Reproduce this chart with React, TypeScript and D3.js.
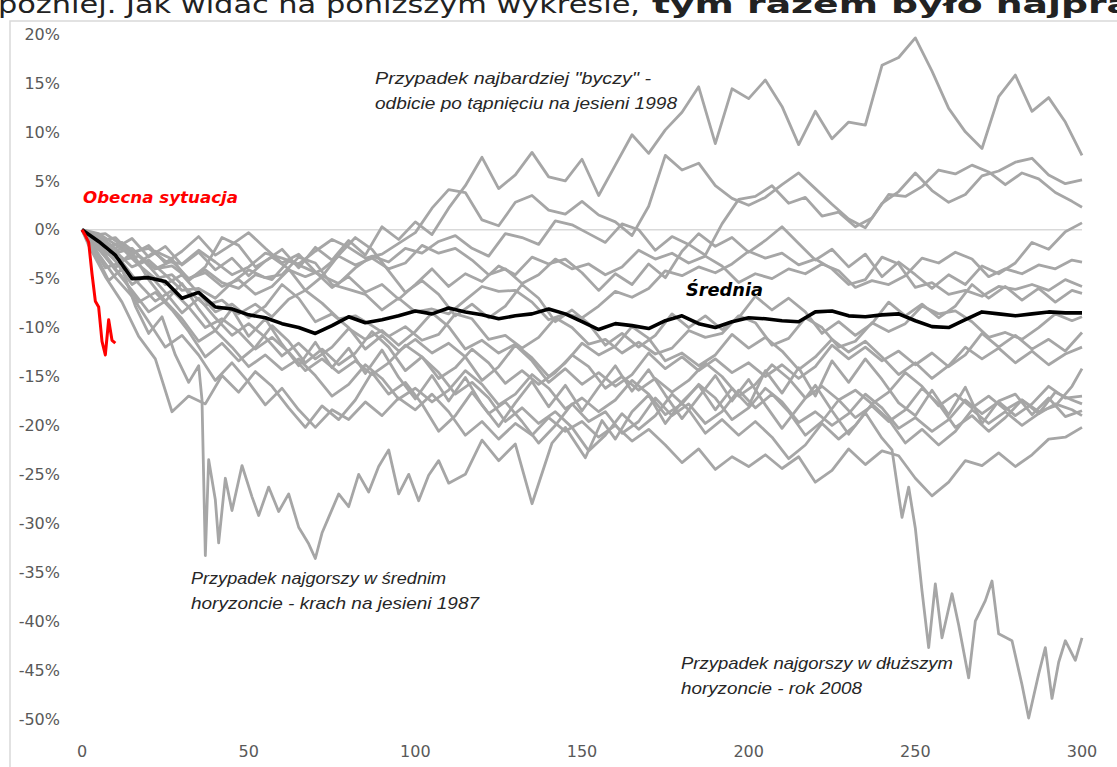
import * as d3 from 'd3';

// trading days after the start of the correction (two sampling grids)
const days = [
  0, 5, 10, 15, 20, 25, 30, 35, 40, 45,
  50, 55, 60, 65, 70, 75, 80, 85, 90, 95,
  100, 105, 110, 115, 120, 125, 130, 135, 140, 145,
  150, 155, 160, 165, 170, 175, 180, 185, 190, 195,
  200, 205, 210, 215, 220, 225, 230, 235, 240, 245,
  250, 255, 260, 265, 270, 275, 280, 285, 290, 295,
  300,
];
const daysB = [
  0,
  2, 7, 12, 17, 22, 27, 32, 37, 42, 47,
  52, 57, 62, 67, 72, 77, 82, 87, 92, 97,
  102, 107, 112, 117, 122, 127, 132, 137, 142, 147,
  152, 157, 162, 167, 172, 177, 182, 187, 192, 197,
  202, 207, 212, 217, 222, 227, 232, 237, 242, 247,
  252, 257, 262, 267, 272, 277, 282, 287, 292, 297,
  300,
];

const yTicks = [20, 15, 10, 5, 0, -5, -10, -15, -20, -25, -30, -35, -40, -45, -50];
const xTicks = [0, 50, 100, 150, 200, 250, 300];

// "Średnia"
const average = [
  0, -1.2, -2.6, -5.0, -4.9, -5.3, -7.0, -6.4, -7.9, -8.1,
  -8.7, -9.0, -9.6, -10.0, -10.6, -9.8, -8.9, -9.5, -9.2, -8.8,
  -8.3, -8.6, -8.0, -8.4, -8.7, -9.1, -8.8, -8.6, -8.1, -8.6,
  -9.4, -10.2, -9.6, -9.8, -10.1, -9.3, -8.8, -9.6, -10.0, -9.4,
  -9.0, -9.1, -9.3, -9.4, -8.4, -8.3, -8.8, -8.9, -8.7, -8.6,
  -9.3, -9.9, -10.0, -9.2, -8.4, -8.6, -8.8, -8.6, -8.4, -8.5,
  -8.5,
];

// "Obecna sytuacja"
const currentDays = [0, 1, 2, 3, 4, 5, 6, 7, 8, 9, 10];
const current = [0, -0.6, -1.3, -4.5, -7.3, -7.9, -11.4, -12.8, -9.2, -11.3, -11.6];

// najbardziej "byczy" - jesień 1998 (days)
const bull1998 = [
  0, -0.6, -1.9, -0.9, -2.8, -1.7, -3.6, -2.3, -4.1, -2.9,
  -4.7, -3.2, -2.0, -3.9, -1.8, -3.1, -1.1, -2.6, 0.3, -1.0,
  0.8, -0.5, 2.2, 4.5, 7.4, 4.2, 5.6, 7.9, 5.4, 5.0,
  7.2, 3.5, 6.6, 9.7, 7.8, 10.2, 12.0, 14.6, 8.8, 14.4,
  13.4, 15.3, 12.6, 8.7, 12.1, 9.3, 11.0, 10.7, 16.8, 17.6,
  19.6, 16.2, 12.4, 10.0, 8.3, 13.6, 15.8, 12.1, 13.5, 11.0,
  7.6,
];

// other historical paths (runs on `days`)
const runA = [
  0, -0.4, -1.5, -2.3, -1.9, -3.2, -3.5, -2.1, -3.3, -4.6,
  -3.8, -2.4, -2.9, -3.5, -2.2, -1.0, -1.8, -2.9, -2.5, -1.4,
  -0.3, 2.2, 4.1, 3.8, 1.0, 0.4, 2.8, 3.5, 2.0, 1.6,
  2.9, 1.5, 0.8, -0.6, 2.4, 7.6, 6.1, 6.8, 4.5, 3.2,
  2.5, 3.3, 4.6, 5.8, 4.2, 2.6, 1.1, 0.2, 2.7, 3.9,
  5.8, 4.0, 2.8, 3.6, 5.5, 6.0, 6.9, 7.3, 5.6, 4.7,
  5.1,
];
const runC = [
  0, -1.2, -0.8, -2.5, -1.6, -3.4, -2.2, -0.7, -2.6, -1.5,
  -0.3, -1.9, -3.4, -2.5, -4.3, -5.9, -4.8, -6.4, -5.6, -7.1,
  -5.6, -4.0, -5.8, -4.5, -5.3, -3.7, -4.6, -2.8, -3.5, -3.0,
  -4.4, -6.2, -4.5, -5.6, -3.5, -4.9, -2.2, -0.4, -1.7, -0.8,
  -2.3, -1.1, 0.3, -1.4, -3.1, -2.0, -3.8, -2.5, -4.8, -3.3,
  -4.6, -6.0, -4.6, -5.6, -3.7, -4.5, -3.4, -1.3, -2.0, -0.2,
  0.7,
];
const runE = [
  0, -0.9, -2.2, -3.8, -3.1, -4.6, -6.2, -6.0, -7.0, -5.4,
  -4.1, -4.9, -4.6, -2.8, -3.4, -5.6, -6.1, -6.6, -8.2, -7.0,
  -8.4, -8.1, -8.6, -7.2, -5.8, -6.3, -6.2, -7.4, -9.2, -8.6,
  -9.0, -7.8, -6.3, -6.9, -6.0, -4.2, -4.7, -3.8, -4.4, -3.5,
  -2.2, -2.9, -2.4, -3.6, -3.0, -4.0, -5.6, -5.1, -2.8, -3.5,
  -5.9, -5.4, -6.6, -6.2, -6.8, -5.8, -6.1, -5.6, -6.2, -5.1,
  -5.8,
];
const runG = [
  0, -1.5, -3.2, -5.6, -4.5, -6.4, -8.5, -7.0, -9.0, -10.8,
  -9.6, -11.0, -12.9, -11.6, -13.2, -12.0, -10.1, -11.2, -10.3, -11.8,
  -10.4, -8.5, -9.9, -12.2, -11.3, -12.6, -11.7, -13.1, -15.0, -13.6,
  -11.6, -12.8, -11.9, -9.9, -11.1, -13.4, -12.6, -13.9, -12.8, -10.7,
  -12.1, -11.0, -12.4, -14.3, -13.0, -11.2, -12.5, -11.4, -13.0, -14.8,
  -13.6, -15.2, -13.9, -12.0, -13.2, -12.1, -13.6, -12.4, -13.8, -12.7,
  -12.0,
];
const runI = [
  0, -1.9, -4.1, -6.2, -8.4, -7.3, -9.1, -11.4, -10.3, -12.0,
  -14.0, -12.8, -14.3, -13.2, -14.9, -17.0, -15.8, -13.8, -15.2, -17.3,
  -16.2, -17.6, -16.4, -14.4, -15.8, -17.9, -16.8, -14.8, -16.2, -18.3,
  -17.2, -18.6, -17.4, -15.4, -16.8, -18.9, -17.8, -15.8, -17.2, -19.4,
  -18.2, -16.2, -17.6, -19.7, -18.6, -20.0, -18.8, -16.8, -18.2, -20.3,
  -19.2, -20.6, -19.4, -17.4, -18.8, -17.6, -19.0, -17.8, -16.0, -17.2,
  -17.0,
];
const runK = [
  0, -2.5, -4.9, -6.8, -9.4, -12.0, -10.8, -12.8, -15.4, -13.6,
  -15.6, -17.9, -16.2, -18.4, -20.2, -18.4, -19.4, -17.6, -19.0, -17.2,
  -18.4, -16.8, -18.6, -21.0, -19.6, -21.4, -19.8, -21.0, -19.2, -20.6,
  -19.6, -21.2, -20.0, -21.6, -20.4, -22.0, -23.8, -22.4, -24.5, -23.2,
  -24.2, -23.0, -24.4, -23.2, -25.8, -24.6, -22.4, -24.0, -22.6, -23.1,
  -25.4, -27.2, -25.8, -23.6, -24.1, -22.8, -24.2, -23.0, -21.4, -21.2,
  -20.2,
];
const runM = [
  0, -0.7, -2.4, -1.9, -3.7, -5.6, -4.6, -6.5, -8.4, -7.6,
  -9.0, -7.8, -5.6, -7.0, -9.4, -8.6, -10.0, -12.2, -10.8, -12.4,
  -11.2, -12.6, -11.6, -13.0, -15.4, -14.0, -11.8, -13.4, -15.6, -14.2,
  -15.8, -14.6, -16.0, -14.8, -12.6, -14.2, -13.0, -14.4, -13.2, -14.6,
  -13.6, -15.0, -13.8, -15.2, -14.0, -11.8, -13.2, -12.0, -13.4, -12.4,
  -13.8, -12.6, -14.0, -12.8, -10.6, -12.0, -10.8, -12.2, -11.2, -12.4,
  -10.5,
];

// other historical paths (runs on `daysB`)
const runB = [
  0,
  -0.6, -1.8, -1.3, -2.6, -4.0, -3.7, -5.0, -4.1, -5.4, -6.0,
  -4.6, -5.1, -3.2, -3.9, -4.7, -5.5, -3.9, -2.7, -3.3, -1.9,
  -2.4, -1.2, -0.6, -1.9, -2.7, -0.4, -0.8, -1.5, 0.9, 0.5,
  -0.4, -1.3, 0.6, 0.0, -2.1, -0.7, -1.5, -2.6, 0.6, 3.1,
  3.4, 4.5, 2.7, 3.3, 1.4, 1.8, 0.3, 1.2, 3.6, 3.4,
  4.4, 6.1, 5.7, 6.6, 5.9, 4.6, 5.8, 5.2, 3.8, 2.9,
  2.3,
];
const runD = [
  0,
  -0.9, -2.4, -3.1, -2.7, -4.0, -3.2, -5.0, -4.4, -5.8, -5.1,
  -6.6, -5.8, -4.1, -4.8, -4.1, -2.7, -3.6, -2.9, -4.0, -3.4,
  -1.6, -2.4, -1.9, -3.1, -4.6, -4.0, -5.5, -4.6, -3.0, -4.0,
  -3.5, -4.6, -3.8, -2.1, -3.0, -2.4, -3.4, -2.7, -3.7, -5.4,
  -4.5, -5.0, -4.0, -4.5, -3.5, -4.2, -5.9, -5.2, -5.6, -4.7,
  -2.9, -3.4, -2.3, -3.0, -4.8, -4.0, -4.5, -3.6, -4.0, -3.1,
  -3.3,
];
const runF = [
  0,
  -1.4, -2.5, -1.9, -3.6, -5.0, -4.6, -6.3, -7.7, -7.2, -8.6,
  -7.6, -8.9, -7.1, -6.2, -7.5, -9.1, -8.8, -9.8, -10.9, -9.9,
  -11.3, -10.7, -8.6, -9.1, -11.2, -10.8, -12.1, -11.0, -9.0, -10.0,
  -11.7, -11.2, -12.6, -11.5, -12.7, -12.1, -10.3, -11.0, -10.6, -8.8,
  -9.5, -11.8, -11.1, -9.0, -10.0, -12.0, -11.4, -9.5, -10.4, -9.6,
  -7.8, -8.6, -8.3, -9.4, -11.0, -10.5, -11.2, -10.0, -8.6, -9.3,
  -8.9,
];
const runH = [
  0,
  -1.0, -3.9, -3.3, -5.5, -7.3, -6.2, -7.9, -10.0, -9.1, -10.4,
  -12.2, -11.0, -12.5, -14.4, -13.2, -14.6, -13.4, -14.8, -13.6, -11.8,
  -13.0, -15.2, -14.1, -12.2, -13.6, -15.7, -14.4, -15.8, -14.6, -12.8,
  -14.0, -16.2, -15.0, -16.4, -15.2, -16.6, -15.4, -13.6, -15.0, -17.0,
  -15.8, -13.8, -15.2, -17.2, -16.0, -17.4, -16.4, -17.8, -16.6, -14.6,
  -16.0, -18.0, -16.8, -18.2, -17.0, -18.4, -17.4, -18.6, -18.0, -16.0,
  -14.2,
];
const runJ = [
  0,
  -1.6, -4.8, -7.4, -10.9, -13.2, -18.6, -17.0, -17.8, -14.9, -16.6,
  -14.5, -16.0, -18.2, -20.2, -18.0, -19.4, -17.4, -14.6, -16.8, -15.6,
  -17.8, -20.6, -19.0, -16.6, -18.8, -17.6, -19.6, -21.8, -20.0, -17.8,
  -19.6, -18.6, -20.8, -19.6, -17.2, -19.0, -17.8, -19.8, -18.6, -16.4,
  -18.2, -16.8, -18.6, -21.0, -19.6, -17.4, -19.2, -18.0, -19.6, -18.4,
  -16.2, -17.8, -20.2, -19.0, -20.6, -19.2, -17.4, -18.8, -17.8, -18.4,
  -19.0,
];
const runL = [
  0,
  -0.8, -2.8, -4.8, -7.4, -6.4, -8.2, -10.4, -13.0, -11.6, -13.4,
  -12.0, -9.8, -11.4, -13.6, -12.2, -13.8, -12.6, -10.4, -12.0, -14.4,
  -13.0, -14.6, -16.8, -15.6, -17.2, -19.6, -18.2, -19.8, -18.6, -20.2,
  -22.6, -21.0, -18.8, -20.4, -19.0, -16.8, -18.4, -20.8, -19.4, -21.0,
  -19.6, -21.2, -23.4, -22.0, -19.8, -21.4, -20.0, -17.8, -19.4, -21.8,
  -20.4, -22.0, -20.6, -18.4, -19.8, -18.6, -20.0, -18.8, -16.6, -17.4,
  -17.8,
];
const runN = [
  0,
  -0.6, -0.4, -1.6, -3.4, -2.2, -3.0, -5.2, -3.8, -0.8, -1.6,
  -3.8, -2.8, -4.0, -6.2, -4.8, -2.6, -0.8, -2.0, -4.2, -6.4,
  -5.2, -6.6, -8.8, -7.6, -9.0, -7.8, -5.6, -7.0, -9.4, -8.2,
  -9.6, -11.8, -10.6, -12.0, -10.8, -8.6, -10.0, -8.8, -10.2, -9.0,
  -6.8, -8.2, -7.0, -8.4, -10.6, -9.4, -10.8, -9.6, -7.4, -8.8,
  -7.6, -9.0, -7.8, -5.6, -7.0, -5.8, -7.2, -6.0, -7.4, -6.2,
  -6.5,
];

// najgorszy w średnim horyzoncie - krach 1987
const crash1987Days = [
  0, 4, 8, 12, 16, 20, 24, 28, 32, 35,
  36, 37, 38, 40, 41, 43, 45, 48, 51, 53,
  56, 59, 62, 65, 68, 70, 72, 74, 77, 80,
  83, 86, 89, 92, 95, 98, 101, 104, 107, 110,
  115, 120, 125, 130, 135, 141, 145, 151, 156, 160,
  165, 170, 175, 180, 185, 190, 195, 200, 205, 210,
  215, 220, 225, 230, 235, 240, 245, 250, 255, 260,
  265, 270, 275, 280, 285, 290, 295, 300,
];
const crash1987 = [
  0, -2.5, -5.2, -4.0, -7.8, -10.6, -8.9, -12.8, -15.6, -13.9,
  -17.4, -33.3, -23.5, -27.6, -32.0, -25.4, -28.7, -24.1, -27.3, -29.2,
  -26.3, -28.8, -27.0, -30.4, -32.1, -33.6, -31.0, -29.4, -27.0, -28.3,
  -25.0, -26.8, -24.2, -22.5, -27.0, -25.0, -27.7, -25.1, -23.6, -25.9,
  -25.0, -21.5, -23.6, -21.9, -28.0, -21.8, -20.2, -23.3, -19.5, -21.4,
  -18.6, -16.9, -19.8, -17.6, -15.9, -18.4, -16.2, -18.0, -14.4, -16.7,
  -14.1, -17.0, -13.4, -15.6, -13.2, -15.3, -17.7, -19.0, -16.4, -18.9,
  -16.1, -19.8, -17.5, -16.8, -18.9, -17.2, -19.1, -18.5,
];

// najgorszy w dłuższym horyzoncie - rok 2008
const crash2008Days = [
  0, 5, 10, 15, 20, 25, 30, 35, 40, 45,
  50, 55, 60, 65, 70, 75, 80, 85, 90, 95,
  100, 105, 110, 115, 120, 125, 130, 135, 140, 145,
  150, 155, 160, 165, 170, 175, 180, 185, 190, 195,
  200, 205, 210, 215, 220, 225, 230, 235, 240, 243,
  246, 248, 250, 252, 254, 256, 258, 261, 263, 266,
  268, 271, 273, 275, 279, 282, 284, 287, 289, 291,
  293, 295, 298, 300,
];
const crash2008 = [
  0, -1.7, -3.9, -2.3, -5.1, -7.3, -5.5, -8.1, -10.3, -8.1,
  -10.9, -9.1, -11.7, -13.9, -11.5, -14.1, -12.1, -14.7, -12.3, -15.1,
  -17.3, -14.9, -17.5, -15.1, -17.9, -20.1, -17.7, -15.5, -18.1, -15.9,
  -18.5, -16.1, -13.9, -16.5, -14.3, -16.9, -19.3, -17.1, -14.9, -17.5,
  -15.3, -17.9, -20.3, -18.1, -15.9, -18.5, -20.9, -18.7, -21.3, -22.5,
  -29.4, -26.3, -30.5, -36.9, -42.7, -36.2, -41.7, -37.2, -40.4, -45.8,
  -40.0, -37.9, -35.9, -41.3, -42.0, -46.5, -49.9, -45.4, -42.7, -47.9,
  -44.2, -42.0, -44.0, -41.7,
];

const runsOnDays = [runA, runC, runE, runG, runI, runK, runM, bull1998];
const runsOnDaysB = [runB, runD, runF, runH, runJ, runL, runN];

const zip = (xs: number[], ys: number[]): [number, number][] => xs.map((d, i) => [d, ys[i]]);

function App() {
  const width = 1117;
  const height = 767;

  const x = d3.scaleLinear().domain([0, 300]).range([82, 1082]);
  const y = d3.scaleLinear().domain([-50, 20]).range([719, 34]);

  const line = d3
    .line<[number, number]>()
    .x((d) => x(d[0]))
    .y((d) => y(d[1]));

  const grey = '#a6a6a6';
  const labelFont = '"DejaVu Sans", Verdana, sans-serif';
  const noteFont = '"Liberation Sans", Arial, sans-serif';

  return (
    <div style={{ position: 'absolute', left: 0, top: 0 }}>
      <svg width={width} height={height} style={{ display: 'block', background: '#fff' }}>
        {/* text of the article above the picture, cut at the top */}
        <text x={-2} y={13} fontFamily={labelFont} fontSize={24} fill="#222">
          <tspan textLength={642} lengthAdjust="spacingAndGlyphs">później. Jak widać na poniższym wykresie,</tspan>
          <tspan x={652} fontWeight="bold" textLength={480} lengthAdjust="spacingAndGlyphs">tym razem było najpra</tspan>
        </text>

        <rect x={10} y={21} width={width + 20} height={height + 20} fill="#fff" stroke="#d9d9d9" strokeWidth={1.5} />

        <line x1={x(0)} x2={x(300)} y1={y(0)} y2={y(0)} stroke="#d9d9d9" strokeWidth={1.5} />

        {yTicks.map((t) => (
          <text key={t} x={60} y={y(t)} dy="0.36em" textAnchor="end" fontFamily={labelFont} fontSize={16} fill="#595959">
            {t}%
          </text>
        ))}
        {xTicks.map((t) => (
          <text key={t} x={x(t)} y={757} textAnchor="middle" fontFamily={labelFont} fontSize={16} fill="#595959">
            {t}
          </text>
        ))}

        <g fill="none" stroke={grey} strokeWidth={2.8} strokeLinejoin="round">
          {runsOnDays.map((r, i) => (
            <path key={'a' + i} d={line(zip(days, r)) || ''} />
          ))}
          {runsOnDaysB.map((r, i) => (
            <path key={'b' + i} d={line(zip(daysB, r)) || ''} />
          ))}
          <path d={line(zip(crash1987Days, crash1987)) || ''} />
          <path d={line(zip(crash2008Days, crash2008)) || ''} />
        </g>

        <path d={line(zip(days, average)) || ''} fill="none" stroke="#000" strokeWidth={3.6} strokeLinejoin="round" />
        <path d={line(zip(currentDays, current)) || ''} fill="none" stroke="#ff0000" strokeWidth={3} strokeLinejoin="round" />

        <text x={83} y={203} fontFamily={labelFont} fontSize={16} fontWeight="bold" fontStyle="italic" fill="#ff0000" textLength={155} lengthAdjust="spacingAndGlyphs">
          Obecna sytuacja
        </text>
        <text x={686} y={296} fontFamily={labelFont} fontSize={18} fontWeight="bold" fontStyle="italic" fill="#000" textLength={77} lengthAdjust="spacingAndGlyphs">
          Średnia
        </text>

        <g fontFamily={noteFont} fontSize={17} fontStyle="italic" fill="#262626">
          <text x={375} y={84} textLength={276} lengthAdjust="spacingAndGlyphs">Przypadek najbardziej "byczy" -</text>
          <text x={375} y={109} textLength={302} lengthAdjust="spacingAndGlyphs">odbicie po tąpnięciu na jesieni 1998</text>
          <text x={191} y={584} textLength={255} lengthAdjust="spacingAndGlyphs">Przypadek najgorszy w średnim</text>
          <text x={191} y={609} textLength={288} lengthAdjust="spacingAndGlyphs">horyzoncie - krach na jesieni 1987</text>
          <text x={681} y={669} textLength={272} lengthAdjust="spacingAndGlyphs">Przypadek najgorszy w dłuższym</text>
          <text x={681} y={694} textLength={181} lengthAdjust="spacingAndGlyphs">horyzoncie - rok 2008</text>
        </g>
      </svg>
    </div>
  );
}

export default App;
